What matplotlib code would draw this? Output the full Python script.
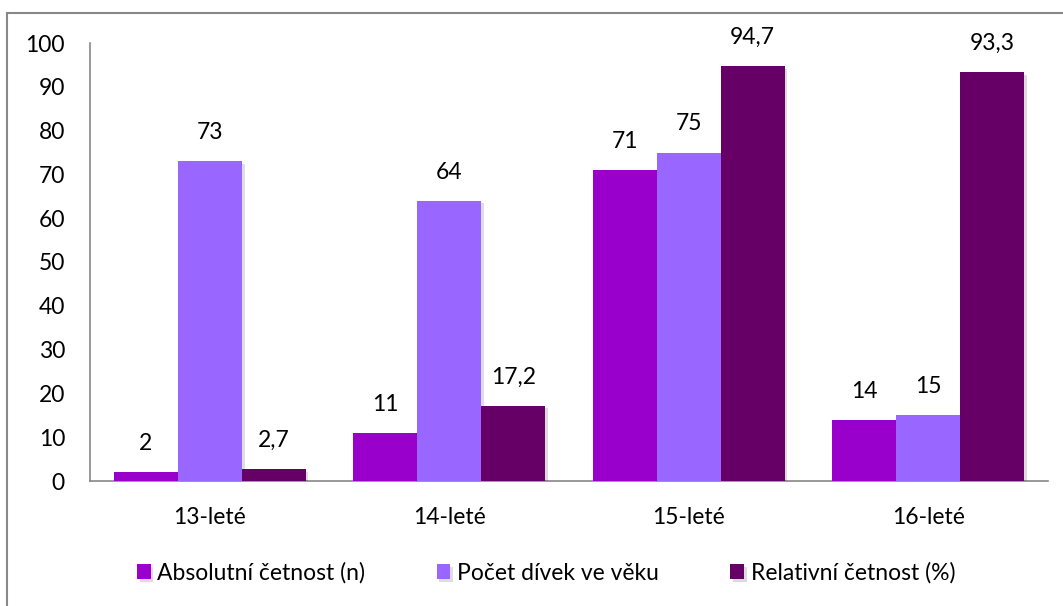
import matplotlib
matplotlib.use("Agg")
import matplotlib.pyplot as plt
import numpy as np
from matplotlib.patches import Rectangle
import matplotlib.patheffects as pe

categories = ["13-leté", "14-leté", "15-leté", "16-leté"]
series_names = ["Absolutní četnost (n)", "Počet dívek ve věku", "Relativní četnost (%)"]
absolutni = [2, 11, 71, 14]
pocet = [73, 64, 75, 15]
relativni = [2.7, 17.2, 94.7, 93.3]
colors = ["#9900CC", "#9966FF", "#660066"]

plt.rcParams['font.family'] = ['Lato', 'DejaVu Sans']
FS = 16.5

fig = plt.figure(figsize=(10.63, 6.06), dpi=100)
ax = fig.add_axes([90/1063, 1-481/606, 958/1063, 438/606])

x = np.arange(len(categories))
w = 0.267
series = [absolutni, pocet, relativni]
for i, (vals, col, name) in enumerate(zip(series, colors, series_names)):
    bars = ax.bar(x + (i-1)*w, vals, w, color=col, label=name, zorder=3,
                  path_effects=[pe.SimplePatchShadow(offset=(2, -2), alpha=0.15), pe.Normal()])
    for b, v in zip(bars, vals):
        txt = f"{v}".replace(".", ",")
        ax.annotate(txt, (b.get_x()+b.get_width()/2, v), xytext=(0, 13),
                    textcoords="offset points", ha="center", va="bottom", fontsize=FS)

ax.set_xlim(-0.5, 3.5)
ax.set_ylim(0, 100)
ax.set_yticks(range(0, 101, 10))
ax.set_xticks(x)
ax.set_xticklabels(categories)
ax.tick_params(axis='both', length=0, labelsize=FS)
ax.tick_params(axis='y', pad=18)
ax.tick_params(axis='x', pad=19)
for s in ["top", "right"]:
    ax.spines[s].set_visible(False)
for s in ["left", "bottom"]:
    ax.spines[s].set_color("#888888")
    ax.spines[s].set_linewidth(1.2)

leg = fig.legend(loc="center", bbox_to_anchor=(546/1063, 1-573/606), ncol=3, frameon=False,
                 fontsize=FS, handlelength=0.6, handleheight=0.6, handletextpad=0.3, columnspacing=3.1)

fig.patches.append(Rectangle((7/1063, -0.5), 2, 0.5 + 1 - 13/606, transform=fig.transFigure,
                             fill=False, edgecolor="#888888", linewidth=1.5))

fig.savefig("out.png", dpi=100)
